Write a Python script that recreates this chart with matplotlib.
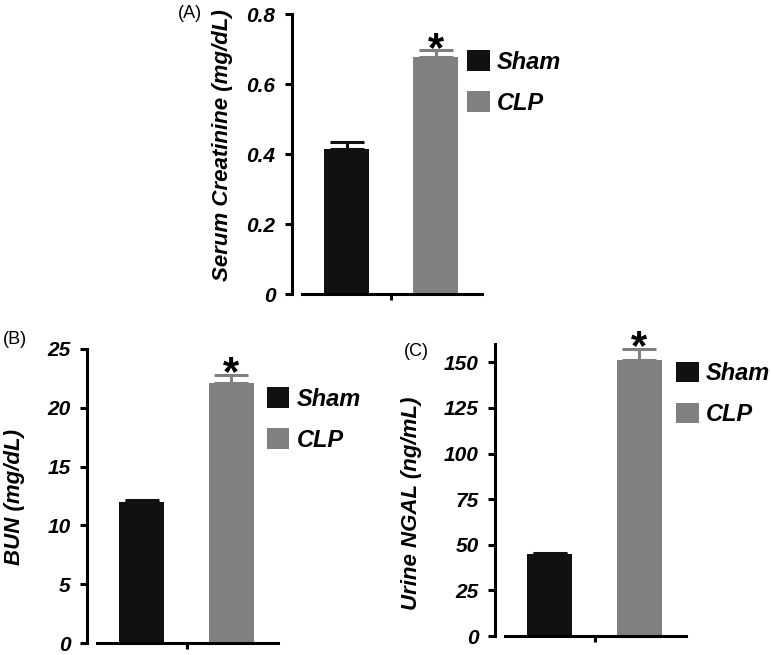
# Kidney injury markers, Sham vs CLP (three bar panels)

import matplotlib
matplotlib.use('Agg')
import matplotlib.pyplot as plt

plt.rcParams['font.family'] = ['Liberation Sans', 'DejaVu Sans']

groups = ['Sham', 'CLP']
colors = ['#111111', '#808080']

creat_mean = [0.415, 0.678]
creat_err = [0.02, 0.018]

bun_mean = [11.95, 22.1]
bun_err = [0.25, 0.7]

ngal_mean = [44.8, 151.0]
ngal_err = [0.6, 6.5]


def panel(ax, means, errs, ymax, ticks, ticklabels, ylabel, lab_xy, leg_xy):
    ax.set_xlim(-0.5, 1.52)
    ax.set_ylim(0, ymax)
    bars = []
    for i in range(2):
        b = ax.bar(i, means[i], width=0.5, color=colors[i],
                   yerr=[[0], [errs[i]]],
                   error_kw=dict(ecolor=colors[i], elinewidth=2.2,
                                 capsize=12, capthick=2.2))
        bars.append(b)
    # star over the CLP bar
    ax.annotate('*', xy=(1, means[1] + errs[1]), xytext=(0, -7.5),
                textcoords='offset points', ha='center', va='baseline',
                fontsize=30, fontweight='bold')

    for s in ['top', 'right']:
        ax.spines[s].set_visible(False)
    ax.spines['left'].set_position(('outward', 7))
    ax.spines['left'].set_linewidth(2.2)
    ax.spines['bottom'].set_linewidth(2.2)

    ax.set_yticks(ticks)
    ax.set_yticklabels(ticklabels, fontsize=15, fontweight='bold',
                       fontstyle='italic')
    ax.tick_params(axis='y', length=5, width=2.2, pad=7)
    ax.set_xticks([0.5])
    ax.set_xticklabels([''])
    ax.tick_params(axis='x', length=4.5, width=2.2)

    ax.set_ylabel(ylabel, fontsize=16, fontweight='bold', fontstyle='italic')
    ax.yaxis.set_label_coords(*lab_xy)

    ax.legend(handles=bars, labels=groups, loc='upper left',
              bbox_to_anchor=leg_xy, frameon=False,
              prop=dict(weight='bold', style='italic', size=17),
              handlelength=0.95, handleheight=0.95, handletextpad=0.3,
              labelspacing=0.75, borderpad=0, borderaxespad=0)


fig = plt.figure(figsize=(7.71, 6.55), dpi=100)

ax_a = fig.add_axes([0.3917, 0.5511, 0.2335, 0.4275])
ax_b = fig.add_axes([0.1258, 0.0183, 0.2348, 0.4489])
ax_c = fig.add_axes([0.655, 0.029, 0.2348, 0.4458])

panel(ax_a, creat_mean, creat_err, 0.8, [0, 0.2, 0.4, 0.6, 0.8],
      ['0', '0.2', '0.4', '0.6', '0.8'], 'Serum Creatinine (mg/dL)',
      (-0.383, 0.53), (0.917, 0.87))
panel(ax_b, bun_mean, bun_err, 25, [0, 5, 10, 15, 20, 25],
      ['0', '5', '10', '15', '20', '25'], 'BUN (mg/dL)',
      (-0.398, 0.497), (0.939, 0.87))
panel(ax_c, ngal_mean, ngal_err, 160, [0, 25, 50, 75, 100, 125, 150],
      ['0', '25', '50', '75', '100', '125', '150'], 'Urine NGAL (ng/mL)',
      (-0.459, 0.455), (0.945, 0.94))

fig.text(178 / 771, 1 - 13 / 655, '(A)', fontsize=13, va='center', ha='left')
fig.text(3 / 771, 1 - 340 / 655, '(B)', fontsize=13, va='center', ha='left')
fig.text(404 / 771, 1 - 352 / 655, '(C)', fontsize=13, va='center', ha='left')

fig.savefig('out.png', dpi=100)
